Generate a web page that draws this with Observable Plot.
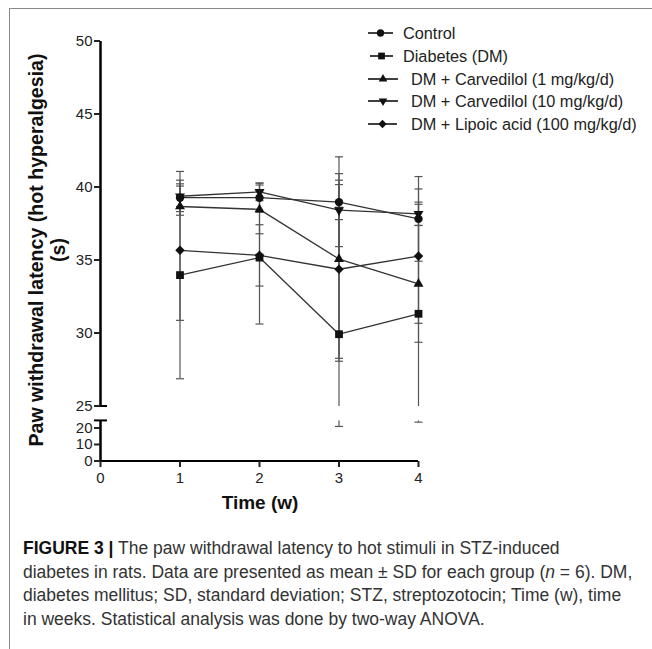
<!DOCTYPE html>
<html><head><meta charset="utf-8">
<script src="https://cdn.jsdelivr.net/npm/d3@7"></script>
<script src="https://cdn.jsdelivr.net/npm/@observablehq/plot@0.6"></script>
<style>
body{margin:0;background:#fff;font-family:"Liberation Sans",Arial,Helvetica,sans-serif;}
#wrap{position:relative;width:652px;height:649px;overflow:hidden;background:#fff;}
#frame{position:absolute;left:9px;top:8px;width:700px;height:700px;border-left:1.5px solid #8a8a8a;border-top:1.5px solid #8a8a8a;}
#upper{position:absolute;left:0;top:0;z-index:2;}
#lower{position:absolute;left:0;top:400px;z-index:2;}
#ylab{position:absolute;left:47px;top:250px;width:440px;transform:translate(-50%,-50%) rotate(-90deg);text-align:center;font-weight:bold;font-size:19.6px;line-height:22px;color:#111;white-space:nowrap;z-index:1;}
#xlab{position:absolute;left:260px;top:492px;transform:translateX(-50%);font-weight:bold;font-size:19px;color:#111;white-space:nowrap;}
#legend{position:absolute;left:0;top:0;z-index:3;}
.lrow{position:absolute;font-size:16.3px;color:#222;white-space:nowrap;line-height:18px;}
#caption{position:absolute;left:23px;top:537px;font-size:17.5px;line-height:23.5px;color:#333;}
#caption div{white-space:nowrap;}
</style></head><body><div id="wrap">
<div id="frame"></div>
<div id="ylab">Paw withdrawal latency (hot hyperalgesia)<br>(s)</div>
<div id="upper"></div>
<div id="lower"></div>
<div id="xlab">Time (w)</div>
<div id="legend"></div>
<div id="caption">
<div><b style="color:#111">FIGURE 3 |</b> The paw withdrawal latency to hot stimuli in STZ-induced</div>
<div>diabetes in rats. Data are presented as mean ± SD for each group (<i>n</i> = 6). DM,</div>
<div>diabetes mellitus; SD, standard deviation; STZ, streptozotocin; Time (w), time</div>
<div>in weeks. Statistical analysis was done by two-way ANOVA.</div>
</div>
</div>
<script>
// ---- data ----
const weeks = [1, 2, 3, 4];
const groups = ["Control", "Diabetes (DM)", "DM + Carvedilol (1 mg/kg/d)", "DM + Carvedilol (10 mg/kg/d)", "DM + Lipoic acid (100 mg/kg/d)"];
const controlMean = [39.3, 39.3, 39.0, 37.85];
const controlSD   = [0.95, 1.0, 1.2, 2.9];
const diabetesMean = [34.0, 35.2, 29.95, 31.35];
const diabetesSD   = [7.1, 4.55, 8.7, 7.5];
const carv1Mean = [38.7, 38.5, 35.1, 33.4];
const carv1SD   = [0.6, 1.67, 7.0, 4.0];
const carv10Mean = [39.4, 39.7, 38.45, 38.2];
const carv10SD   = [0.7, 0.6, 2.5, 0.8];
const lipoicMean = [35.7, 35.35, 34.4, 35.3];
const lipoicSD   = [4.8, 2.1, 6.1, 4.6];
const upperTicks = [25, 30, 35, 40, 45, 50];
const lowerTicks = [0, 10, 20];
const xTicks = [0, 1, 2, 3, 4];

const means = [controlMean, diabetesMean, carv1Mean, carv10Mean, lipoicMean];
const sds = [controlSD, diabetesSD, carv1SD, carv10SD, lipoicSD];
const symbols = ["circle", "square", "triangle", "triangle", "diamond2"];
const rotations = [0, 0, 0, 180, 0];
const radii = [4.2, 4.4, 3.7, 3.7, 4.3];

const BREAK = 25, LOW_TOP = 24.6;

const data = groups.flatMap((g, i) => weeks.map((w, j) => ({group: g, gi: i, week: w, mean: means[i][j], sd: sds[i][j]})));
const caps = data.flatMap(d => [{week: d.week, v: d.mean + d.sd}, {week: d.week, v: d.mean - d.sd}]);

const hline = {draw(ctx, size) { const r = Math.sqrt(size / Math.PI); ctx.moveTo(-r, 0); ctx.lineTo(r, 0); }};
const fmt = d => String(Math.round(d));
const common = {width: 652, marginLeft: 100, marginRight: 234,
  style: {background: "transparent", fontFamily: "'Liberation Sans', Arial, sans-serif", color: "#222", overflow: "visible"},
  x: {domain: [0, 4], axis: null}};
const axisStyle = {tickFormat: fmt, tickSize: 6, fontSize: 15, strokeWidth: 2, label: null, color: "#222"};

// ---- upper segment (25–50) ----
const upper = Plot.plot({
  ...common, height: 412, marginTop: 41, marginBottom: 6,
  y: {domain: [BREAK, 50], axis: null},
  marks: [
    Plot.ruleX([0], {y1: () => BREAK, y2: () => 50, stroke: "#000", strokeWidth: 2.5}),
    Plot.dot([{x: 0, y: BREAK}], {x: "x", y: "y", symbol: hline, r: 6.5, stroke: "#000", strokeWidth: 2, fill: "none", dy: -0.5}),
    Plot.axisY({...axisStyle, ticks: upperTicks, tickPadding: 2, anchor: "left", dy: -0.5}),
    Plot.line(data, {x: "week", y: "mean", z: "group", stroke: "#333", strokeWidth: 1.3}),
    Plot.ruleX(data, {x: "week", y1: d => Math.max(d.mean - d.sd, BREAK), y2: d => d.mean + d.sd, stroke: "#555", strokeWidth: 1.2}),
    Plot.dot(caps.filter(c => c.v >= BREAK), {x: "week", y: "v", symbol: hline, r: 4, stroke: "#555", strokeWidth: 1.2, fill: "none"}),
    ...groups.map((g, i) => Plot.dot(data.filter(d => d.gi === i), {x: "week", y: "mean", symbol: symbols[i], rotate: rotations[i], r: radii[i], fill: "#111", stroke: "none"}))
  ]
});
document.getElementById("upper").appendChild(upper);

// ---- lower segment (0–25) with x axis ----
const lower = Plot.plot({
  ...common, height: 112, marginTop: 19.75, marginBottom: 51,
  y: {domain: [0, BREAK], axis: null},
  marks: [
    Plot.ruleX([0], {y1: () => 0, y2: () => LOW_TOP, stroke: "#000", strokeWidth: 2.5}),
    Plot.dot([{x: 0, y: LOW_TOP}], {x: "x", y: "y", symbol: hline, r: 6.5, stroke: "#000", strokeWidth: 2, fill: "none", dy: -0.5}),
    Plot.ruleY([0], {stroke: "#000", strokeWidth: 2.2, dy: -0.5}),
    Plot.axisY({...axisStyle, ticks: lowerTicks, tickPadding: 2, anchor: "left", dy: -0.5}),
    Plot.axisX({...axisStyle, ticks: xTicks, tickPadding: 5, anchor: "bottom"}),
    Plot.ruleX(data.filter(d => d.mean - d.sd < BREAK), {x: "week", y1: d => d.mean - d.sd, y2: () => LOW_TOP, stroke: "#555", strokeWidth: 1.2}),
    Plot.dot(caps.filter(c => c.v < BREAK), {x: "week", y: "v", symbol: hline, r: 4, stroke: "#555", strokeWidth: 1.2, fill: "none"})
  ]
});
document.getElementById("lower").appendChild(lower);

// ---- legend ----
const legendY = [33, 56, 79, 101, 124];
const lineX1 = [368, 370, 368, 368, 368];
const lineX2 = [393, 393, 398, 398, 397];
const textX = [403, 403, 411, 411, 411];
const leg = d3.select("#legend");
const symMap = {circle: d3.symbolCircle, square: d3.symbolSquare, triangle: d3.symbolTriangle, diamond2: d3.symbolDiamond2};
groups.forEach((g, i) => {
  const svg = leg.append("svg").attr("width", 40).attr("height", 20)
    .style("position", "absolute").style("left", "360px").style("top", (legendY[i] - 10) + "px");
  svg.append("line").attr("x1", lineX1[i] - 360).attr("x2", lineX2[i] - 360).attr("y1", 10).attr("y2", 10)
    .attr("stroke", "#111").attr("stroke-width", 1.6);
  const cx = (lineX1[i] + lineX2[i]) / 2 - 360;
  svg.append("path").attr("d", d3.symbol(symMap[symbols[i]], Math.PI * radii[i] * radii[i] * 0.75)())
    .attr("transform", `translate(${cx},10) rotate(${rotations[i]})`).attr("fill", "#111");
  leg.append("div").attr("class", "lrow").style("left", textX[i] + "px").style("top", (legendY[i] - 9) + "px").text(g);
});
</script>
</body></html>
